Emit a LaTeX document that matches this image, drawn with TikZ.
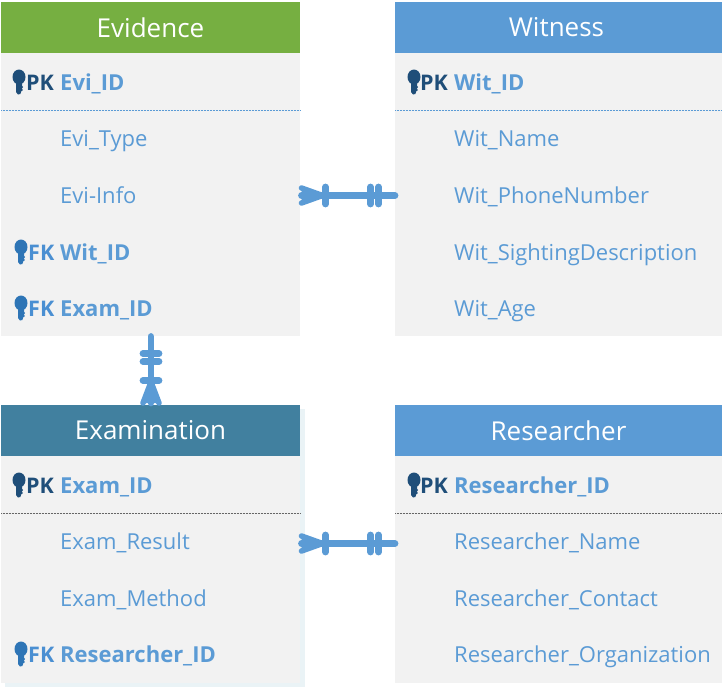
\documentclass[tikz,border=0pt]{standalone}
\usepackage{fontspec}
\setmainfont{Open Sans}
\definecolor{bodyc}{HTML}{F2F2F2}
\definecolor{greenh}{HTML}{76AF41}
\definecolor{blueh}{HTML}{5B9BD5}
\definecolor{tealh}{HTML}{41809F}
\definecolor{darkkey}{HTML}{1F4E79}
\definecolor{midkey}{HTML}{2E75B6}
\definecolor{fkc}{HTML}{4A8FD2}
\definecolor{shadowc}{HTML}{EAF3F6}
\tikzset{
  x=1pt,y=-1pt,
  tablebody/.style={fill=bodyc,draw=none,anchor=north west,inner sep=0pt,outer sep=0pt},
  header/.style={draw=none,anchor=north west,inner sep=0pt,outer sep=0pt,minimum height=51pt,text=white,font=\fontsize{26}{30}\selectfont,align=center},
  attr/.style={anchor=base west,inner sep=0pt,text=blueh,font=\fontsize{22}{26}\selectfont},
  keyattr/.style={attr,font=\fontsize{22}{26}\selectfont\bfseries},
  pklabel/.style={anchor=base west,inner sep=0pt,text=darkkey,font=\fontsize{21.5}{26}\selectfont\bfseries},
  fklabel/.style={anchor=base west,inner sep=0pt,text=fkc,font=\fontsize{21.5}{26}\selectfont\bfseries},
  sep/.style={densely dotted,line width=0.5pt},
  link/.style={draw=blueh,line width=6.8pt,line cap=round,line join=round},
  keypic/.pic={
    \fill[pic actions] (0,-5) circle[x radius=6.5pt,y radius=7.5pt];
    \fill[pic actions] (-3,-1) -- (3,-1) -- (3,4) -- (4.2,5) -- (2.8,6.5) -- (3.8,8) -- (2.2,9.5) -- (1.4,12) -- (-1,12.5) -- (-3,10) -- cycle;
  },
}
\begin{document}
\begin{tikzpicture}
\useasboundingbox (0,0) rectangle (725,688);
\fill[white] (0,0) rectangle (725,688);

% Table bodies and headers
\node[tablebody,minimum width=299pt,minimum height=334pt] (evb) at (1,2) {};
\node[header,fill=greenh,minimum width=299pt] (evh) at (1,2) {Evidence};
\node[tablebody,minimum width=327pt,minimum height=334pt] (wib) at (395,2) {};
\node[header,fill=blueh,minimum width=327pt] (wih) at (395,2) {\hspace*{-4pt}Witness};
\fill[shadowc] (5,409) rectangle (305,687);
\node[tablebody,minimum width=299pt,minimum height=278pt] (exb) at (1,405) {};
\node[header,fill=tealh,minimum width=299pt] (exh) at (1,405) {Examination};
\node[tablebody,minimum width=327pt,minimum height=278pt] (reb) at (395,405) {};
\node[header,fill=blueh,minimum width=327pt] (reh) at (395,405) {Researcher};

% Separators
\draw[sep,draw=blueh] (1,110.5) -- (300,110.5);
\draw[sep,draw=blueh] (395,110.5) -- (722,110.5);
\draw[sep,draw=black!60] (1,513.5) -- (300,513.5);
\draw[sep,draw=black!60] (395,513.5) -- (722,513.5);

% Evidence
\pic[fill=darkkey] at (19,82) {keypic};
\node[pklabel] (evpk) at (26,90) {PK};
\node[keyattr] (ev1) at (60,90) {Evi\_ID};
\node[attr] (ev2) at (60,146) {Evi\_Type};
\node[attr] (ev3) at (60,203) {Evi-Info};
\pic[fill=midkey] at (21,252) {keypic};
\node[fklabel] (evfk1) at (28,260) {FK};
\node[keyattr] (ev4) at (60,260) {Wit\_ID};
\pic[fill=midkey] at (21,308) {keypic};
\node[fklabel] (evfk2) at (28,316) {FK};
\node[keyattr] (ev5) at (60,316) {Exam\_ID};

% Witness
\pic[fill=darkkey] at (414,82) {keypic};
\node[pklabel] (wipk) at (420,90) {PK};
\node[keyattr] (wi1) at (454,90) {Wit\_ID};
\node[attr] (wi2) at (454,146) {Wit\_Name};
\node[attr] (wi3) at (454,203) {Wit\_PhoneNumber};
\node[attr] (wi4) at (454,260) {Wit\_SightingDescription};
\node[attr] (wi5) at (454,316) {Wit\_Age};

% Examination
\pic[fill=darkkey] at (19,485) {keypic};
\node[pklabel] (expk) at (26,493) {PK};
\node[keyattr] (ex1) at (60,493) {Exam\_ID};
\node[attr] (ex2) at (60,549) {Exam\_Result};
\node[attr] (ex3) at (60,606) {Exam\_Method};
\pic[fill=midkey] at (21,654) {keypic};
\node[fklabel] (exfk) at (28,662) {FK};
\node[keyattr] (ex4) at (60,662) {Researcher\_ID};

% Researcher
\pic[fill=darkkey] at (414,485) {keypic};
\node[pklabel] (repk) at (420,493) {PK};
\node[keyattr] (re1) at (454,493) {Researcher\_ID};
\node[attr] (re2) at (454,549) {Researcher\_Name};
\node[attr] (re3) at (454,606) {Researcher\_Contact};
\node[attr] (re4) at (454,662) {Researcher\_Organization};

% Connector anchors
\path (301.5,195.5) coordinate (c1a) (395,195.5) coordinate (c1b);
\path (301.5,543.5) coordinate (c2a) (395,543.5) coordinate (c2b);
\path (151,336.5) coordinate (c3a) (151,403) coordinate (c3b);

% horizontal connectors
\foreach \a/\b in {c1a/c1b,c2a/c2b}{
  \draw[link] (\a) -- (\b);
  \draw[link,line width=5.5pt] (\a)++(0,-7.5) -- ++(21,7.5) -- ++(-21,7.5);
  \fill[blueh] (\a)++(0,-7.5) -- ++(21,7.5) -- ++(-21,7.5) -- cycle;
  \draw[link] (\a)++(24,-8.5) -- ++(0,17);
  \draw[link] (\a)++(69,-8.5) -- ++(0,17);
  \draw[link] (\a)++(77,-8.5) -- ++(0,17);
}
% vertical connector
\draw[link] (c3a) -- (c3b);
\draw[link,line width=5.5pt] (c3b)++(-8,0) -- ++(8,-21) -- ++(8,21);
\fill[blueh] (c3b)++(-8,0) -- ++(8,-21) -- ++(8,21) -- cycle;
\draw[link] (c3a)++(-8,17) -- ++(16,0);
\draw[link] (c3a)++(-8,25) -- ++(16,0);
\draw[link] (c3a)++(-8,44) -- ++(16,0);
\end{tikzpicture}
\end{document}
